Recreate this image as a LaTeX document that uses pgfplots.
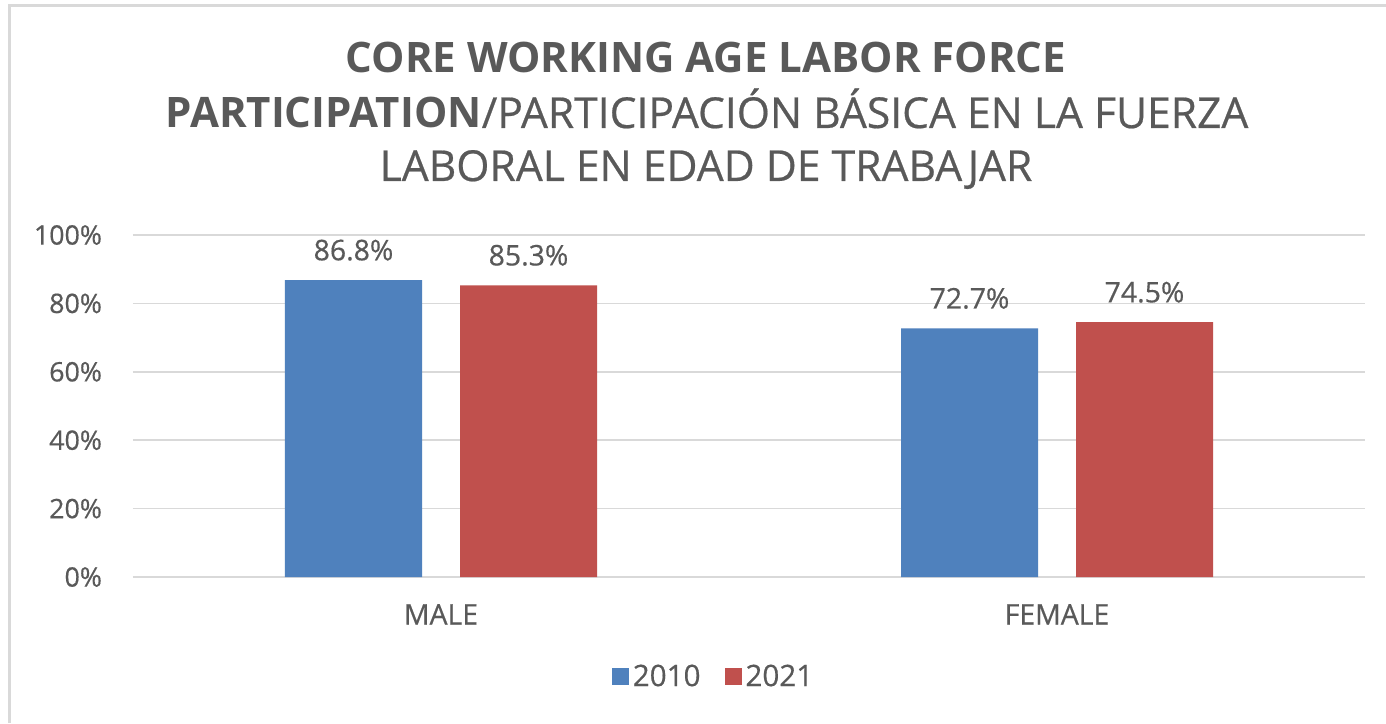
\documentclass[border=0pt]{standalone}
\usepackage{fontspec}
\setmainfont{Open Sans}[UprightFeatures={FakeBold=0.5}, BoldFeatures={FakeBold=0}]
\usepackage{pgfplots}
\pgfplotsset{compat=1.18}
\definecolor{cblue}{HTML}{4F81BD}
\definecolor{cred}{HTML}{C0504D}
\definecolor{txt}{HTML}{595959}
\definecolor{gridc}{HTML}{D9D9D9}
\begin{document}
\begin{tikzpicture}[x=1pt,y=1pt]
\useasboundingbox (0,0) rectangle (693,361.5);
\fill[white] (0,0) rectangle (693,361.5);
\draw[gridc, line width=1.5pt] (4.75,0) -- (4.75,358.75) -- (693,358.75);
\node[anchor=base, text=txt, font=\fontsize{21}{24}\selectfont\bfseries, inner sep=0pt] at (353,325) {CORE WORKING AGE LABOR FORCE};
\node[anchor=base, text=txt, font=\fontsize{21.3}{24}\selectfont, inner sep=0pt] at (353.5,297.5) {{\fontsize{21}{24}\selectfont\bfseries PARTICIPATION}/PARTICIPACIÓN BÁSICA EN LA FUERZA};
\node[anchor=base, text=txt, font=\fontsize{21.3}{24}\selectfont, inner sep=0pt] at (353,271) {LABORAL EN EDAD DE TRABAJAR};
\begin{axis}[
  at={(66.5pt,73pt)}, anchor=south west,
  scale only axis, width=616pt, height=171pt,
  xmin=-0.5, xmax=1.5, ymin=0, ymax=100,
  clip=false,
  axis line style={draw=none},
  xtick style={draw=none}, ytick style={draw=none},
  ymajorgrids, grid style={gridc, line width=0.8pt},
  xtick={0,1}, xticklabels={MALE,FEMALE},
  ytick={0,20,40,60,80,100},
  yticklabels={0\%,20\%,40\%,60\%,80\%,100\%},
  tick label style={text=txt},
  yticklabel style={font=\fontsize{13.4}{15}\selectfont, xshift=-12pt},
  xticklabel style={font=\fontsize{14.2}{16}\selectfont, anchor=base, yshift=-19.5pt},
  ybar, bar width=68.5pt,
  nodes near coords, point meta=explicit symbolic,
  every node near coord/.append style={text=txt, font=\fontsize{14.2}{16}\selectfont, yshift=6.2pt},
  legend columns=2,
  legend style={at={(0.472,-0.292)}, anchor=center, draw=none, fill=none,
    font=\fontsize{14.8}{16}\selectfont, text=txt,
    /tikz/every even column/.append style={column sep=10pt}},
  legend image code/.code={\fill[#1] (0pt,-4.25pt) rectangle (8.5pt,4.25pt);},
]
\addplot[fill=cblue, draw=none, bar shift=-43.75pt] coordinates {(0,86.8) [86.8\%] (1,72.7) [72.7\%]};
\addplot[fill=cred, draw=none, bar shift=43.75pt] coordinates {(0,85.3) [85.3\%] (1,74.5) [74.5\%]};
\legend{2010,2021}
\end{axis}
\end{tikzpicture}
\end{document}
